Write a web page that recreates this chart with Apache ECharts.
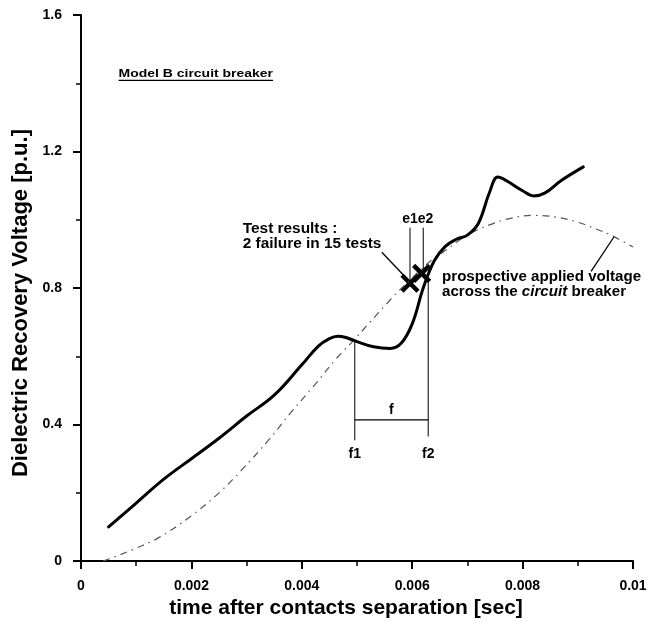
<!DOCTYPE html>
<html>
<head>
<meta charset="utf-8">
<script src="https://cdn.jsdelivr.net/npm/echarts@6/dist/echarts.min.js"></script>
<style>
  html, body { margin: 0; padding: 0; background: #fff; }
  #chart { width: 659px; height: 624px; }
</style>
</head>
<body>
<div id="chart"></div>
<script>
// Dielectric recovery voltage of the breaker gap (solid curve)
const recoveryTime = [0.0005, 0.0010, 0.0015, 0.0020, 0.0025, 0.0030, 0.0035, 0.0040, 0.0043, 0.0045,
  0.00465, 0.0048, 0.0050, 0.0053, 0.0056, 0.0058, 0.0060, 0.0062, 0.0064, 0.0066,
  0.0068, 0.0070, 0.0072, 0.0074, 0.00755, 0.0077, 0.0080, 0.0082, 0.0084, 0.0087, 0.0091];
const recoveryVoltage = [0.10, 0.17, 0.24, 0.30, 0.36, 0.425, 0.486, 0.575, 0.63, 0.652,
  0.659, 0.655, 0.643, 0.628, 0.623, 0.638, 0.695, 0.80, 0.88, 0.922,
  0.943, 0.955, 0.99, 1.08, 1.125, 1.115, 1.085, 1.07, 1.078, 1.115, 1.155];

// Prospective voltage applied across the breaker (dash-dot curve)
const appliedTime = [0.0004, 0.0007, 0.0010, 0.0014, 0.0020, 0.0025, 0.0029, 0.0034, 0.0038, 0.0042,
  0.00465, 0.0049, 0.0056, 0.0060, 0.0063, 0.0066, 0.0070, 0.0074, 0.0078, 0.0082,
  0.0086, 0.0090, 0.0093, 0.0096, 0.0100];
const appliedVoltage = [0.0, 0.018, 0.038, 0.068, 0.133, 0.20, 0.265, 0.355, 0.435, 0.51,
  0.598, 0.64, 0.765, 0.83, 0.875, 0.91, 0.955, 0.985, 1.005, 1.013,
  1.008, 0.993, 0.975, 0.955, 0.92];

// Test results: breakdown points e1, e2
const testTime = [0.00596, 0.00617];
const testVoltage = [0.814, 0.843];

// Interval f between f1 and f2
const f1Time = 0.00496;
const f2Time = 0.00629;
const e2Time = 0.0062;

const xTicks = [0, 0.002, 0.004, 0.006, 0.008, 0.01];
const yTicks = [0, 0.4, 0.8, 1.2, 1.6];

const FONT = 'Arial, "Liberation Sans", Helvetica, sans-serif';

// annotation segments: [x1, y1, x2, y2, width]
const guideSegments = [
  [testTime[0], testVoltage[0], testTime[0], 0.977, 1],
  [e2Time, 0.852, e2Time, 0.977, 1],
  [f1Time, 0.644, f1Time, 0.354, 1],
  [f2Time, 0.84, f2Time, 0.365, 1],
  [f1Time, 0.414, f2Time, 0.414, 1.3],
  [0.00545, 0.905, 0.00587, 0.833, 1.3],
  [0.00966, 0.951, 0.00924, 0.849, 1.3]
];

// annotation texts: [x, y, text, align, fontSize, scaleX, underline]
const noteTexts = [
  [0.00293, 0.974, 'Test results :', 'left', 14, 1.1, false],
  [0.00293, 0.928, '2 failure in 15 tests', 'left', 14, 1.1, false],
  [0.0061, 1.003, 'e1e2', 'center', 14, 1.0, false],
  [0.00654, 0.832, 'prospective applied voltage', 'left', 14, 1.08, false],
  [0.00654, 0.788, '{n|across the }{i|circuit}{n| breaker}', 'left', 14, 1.08, false],
  [0.00562, 0.443, 'f', 'center', 14, 1.0, false],
  [f1Time, 0.313, 'f1', 'center', 14, 1.0, false],
  [f2Time, 0.313, 'f2', 'center', 14, 1.0, false],
  [0.00068, 1.426, 'Model B circuit breaker', 'left', 11, 1.27, true]
];

const zip = (xs, ys) => xs.map((x, i) => [x, ys[i]]);

const measureCtx = document.createElement('canvas').getContext('2d');
function textWidth(str, size) {
  measureCtx.font = 'bold ' + size + 'px ' + FONT;
  return measureCtx.measureText(str).width;
}

const chart = echarts.init(document.getElementById('chart'), null, { renderer: 'canvas' });

const axisCommon = {
  axisLine: { show: true, onZero: false, lineStyle: { color: '#000', width: 2 } },
  axisTick: { show: true, inside: false, length: 8, lineStyle: { color: '#000', width: 2 } },
  minorTick: { show: true, splitNumber: 2, length: 5, lineStyle: { color: '#000', width: 1.5 } },
  splitLine: { show: false },
  axisLabel: { color: '#000', fontFamily: FONT, fontWeight: 'bold', fontSize: 14 },
  nameTextStyle: { color: '#000', fontFamily: FONT, fontWeight: 'bold' }
};

chart.setOption({
  animation: false,
  backgroundColor: '#fff',
  grid: { left: 81, right: 26, top: 15, bottom: 55, containLabel: false },
  xAxis: Object.assign({}, axisCommon, {
    type: 'value', min: xTicks[0], max: xTicks[xTicks.length - 1], interval: 0.002,
    name: 'time after contacts separation [sec]', nameLocation: 'middle', nameGap: 31,
    nameTextStyle: Object.assign({}, axisCommon.nameTextStyle, { fontSize: 21, padding: [0, 22, 0, 0] }),
    axisLabel: Object.assign({}, axisCommon.axisLabel, { margin: 18 })
  }),
  yAxis: Object.assign({}, axisCommon, {
    type: 'value', min: yTicks[0], max: yTicks[yTicks.length - 1], interval: 0.4,
    name: 'Dielectric Recovery Voltage [p.u.]', nameLocation: 'middle', nameGap: 48, nameRotate: 90,
    nameTextStyle: Object.assign({}, axisCommon.nameTextStyle, { fontSize: 22, padding: [0, 30, 0, 0] }),
    axisLabel: Object.assign({}, axisCommon.axisLabel, { margin: 19 })
  }),
  series: [
    {
      type: 'line', name: 'prospective', data: zip(appliedTime, appliedVoltage),
      smooth: 0.4, symbol: 'none',
      lineStyle: { color: '#555', width: 1.2, type: [7, 5, 1.5, 5] }
    },
    {
      type: 'line', name: 'recovery', data: zip(recoveryTime, recoveryVoltage),
      smooth: 0.4, symbol: 'none',
      lineStyle: { color: '#000', width: 3, cap: 'round', join: 'round' }
    },
    {
      type: 'custom', name: 'guides', data: guideSegments,
      encode: { x: [0, 2], y: [1, 3] }, clip: false,
      renderItem: (params, api) => {
        const p1 = api.coord([api.value(0), api.value(1)]);
        const p2 = api.coord([api.value(2), api.value(3)]);
        return {
          type: 'line',
          shape: { x1: p1[0], y1: p1[1], x2: p2[0], y2: p2[1] },
          style: { stroke: '#000', lineWidth: api.value(4) }
        };
      }
    },
    {
      type: 'custom', name: 'tests', data: zip(testTime, testVoltage),
      encode: { x: 0, y: 1 }, clip: false,
      renderItem: (params, api) => {
        const c = api.coord([api.value(0), api.value(1)]);
        const r = 8;
        const st = { stroke: '#000', lineWidth: 4.5, lineCap: 'butt' };
        return {
          type: 'group',
          children: [
            { type: 'line', shape: { x1: c[0] - r, y1: c[1] - r, x2: c[0] + r, y2: c[1] + r }, style: st },
            { type: 'line', shape: { x1: c[0] - r, y1: c[1] + r, x2: c[0] + r, y2: c[1] - r }, style: st }
          ]
        };
      }
    },
    {
      type: 'custom', name: 'notes', data: noteTexts.map(t => [t[0], t[1]]),
      encode: { x: 0, y: 1 }, clip: false,
      renderItem: (params, api) => {
        const c = api.coord([api.value(0), api.value(1)]);
        const t = noteTexts[params.dataIndex];
        const size = t[4];
        const children = [{
          type: 'text', x: 0, y: 0,
          style: {
            text: t[2], textAlign: t[3], textVerticalAlign: 'middle',
            fontFamily: FONT, fontWeight: 'bold', fontSize: size, fill: '#000',
            rich: {
              n: { fontFamily: FONT, fontWeight: 'bold', fontSize: size, fill: '#000' },
              i: { fontFamily: FONT, fontWeight: 'bold', fontStyle: 'italic', fontSize: size, fill: '#000' }
            }
          }
        }];
        if (t[6]) {
          const w = textWidth(t[2], size);
          children.push({
            type: 'line', shape: { x1: 0, y1: size * 0.55, x2: w, y2: size * 0.55 },
            style: { stroke: '#000', lineWidth: 1.3 }
          });
        }
        return { type: 'group', x: c[0], y: c[1], scaleX: t[5], children: children };
      }
    }
  ]
});
</script>
</body>
</html>
